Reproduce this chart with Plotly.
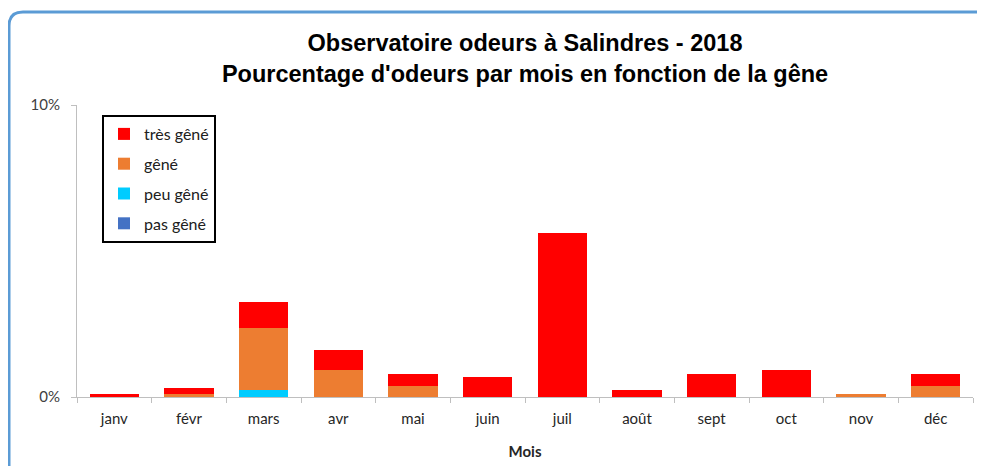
import plotly.graph_objects as go

months = ["janv", "févr", "mars", "avr", "mai", "juin", "juil", "août", "sept", "oct", "nov", "déc"]
pas_gene = [0, 0, 0, 0, 0, 0, 0, 0, 0, 0, 0, 0]
peu_gene = [0, 0, 0.25, 0, 0, 0, 0, 0, 0, 0, 0, 0]
gene = [0, 0.12, 2.11, 0.94, 0.37, 0, 0, 0, 0, 0, 0.12, 0.37]
tres_gene = [0.10, 0.18, 0.91, 0.68, 0.42, 0.68, 5.62, 0.25, 0.80, 0.91, 0, 0.43]

series = [
    ("pas gêné", pas_gene, "#4472C4", 4),
    ("peu gêné", peu_gene, "#00CCFF", 3),
    ("gêné", gene, "#ED7D31", 2),
    ("très gêné", tres_gene, "#FF0000", 1),
]

# page body has an 8px margin, so the figure is drawn 8px smaller / offset
OFF = 8
W, H = 985 - OFF, 466 - OFF
L, R, T, B = 77 - OFF, 12, 105 - OFF, 69

fig = go.Figure()
for name, vals, col, rank in series:
    fig.add_trace(go.Bar(
        x=months, y=[v / 100 for v in vals], name=name,
        marker=dict(color=col, line=dict(width=0)),
        legendgroup=name, legendrank=rank,
    ))

pw, ph = W - L - R, H - T - B
def px(x):
    return (x - OFF - L) / pw
def py(y):
    return (H - B - (y - OFF)) / ph

# rounded chart border (decoration)
x0, y0, rad = 9, 12, 14
x1, y1 = 1010, 490
path = (f"M {px(x0)},{py(y1)} L {px(x0)},{py(y0 + rad)} "
        f"Q {px(x0)},{py(y0)} {px(x0 + rad)},{py(y0)} L {px(x1)},{py(y0)}")

fig.update_layout(
    width=W, height=H,
    margin=dict(l=L, r=R, t=T, b=B),
    barmode="stack", bargap=0.34,
    paper_bgcolor="white", plot_bgcolor="white",
    title=dict(
        text="<b>Observatoire odeurs à Salindres - 2018<br>Pourcentage d'odeurs par mois en fonction de la gêne</b>",
        x=0.5, xref="paper", xanchor="center", y=1 - 43 / H, yref="container", yanchor="middle",
        font=dict(family="Liberation Sans, Arial", size=23.5, color="black"),
    ),
    font=dict(family="Lato, Liberation Sans", size=15, color="#262626"),
    legend=dict(
        x=px(102), y=py(115), xanchor="left", yanchor="top",
        bordercolor="black", borderwidth=2, bgcolor="white",
        traceorder="grouped", tracegroupgap=6,
        font=dict(family="Lato, Liberation Sans", size=16, color="#202020"),
        itemwidth=30,
    ),
    shapes=[dict(type="path", path=path, xref="paper", yref="paper",
                 line=dict(color="#5B9BD5", width=3), layer="above")],
    xaxis=dict(
        type="category", showgrid=False, showline=True, linecolor="#BFBFBF", linewidth=1,
        ticks="outside", tickson="boundaries", ticklen=5, tickcolor="#BFBFBF",
        tickfont=dict(size=15, color="#262626"), ticklabelstandoff=8,
        title=dict(text="<b>Mois</b>", font=dict(size=15, color="#262626"), standoff=20),
        automargin=False,
    ),
    yaxis=dict(
        range=[0, 0.10], tickvals=[0, 0.10], tickformat=".0%",
        showgrid=True, gridcolor="#D0D0D0", showline=True, linecolor="#BFBFBF",
        zeroline=False, ticks="outside", ticklen=5, tickcolor="#BFBFBF",
        tickfont=dict(size=15, color="#404040"), ticklabelstandoff=8,
        automargin=False,
    ),
)

fig.write_html("out.html")
